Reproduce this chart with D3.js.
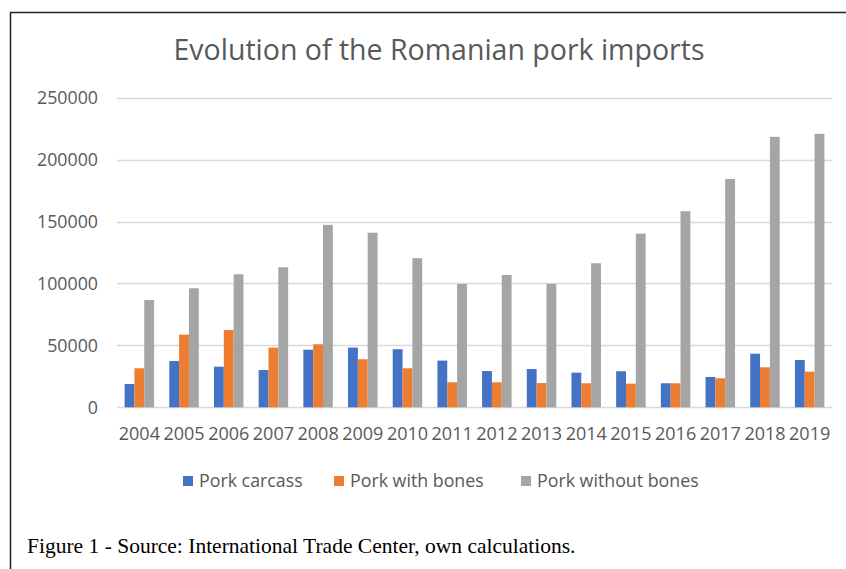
<!DOCTYPE html>
<html>
<head>
<meta charset="utf-8">
<script src="https://cdn.jsdelivr.net/npm/d3@7"></script>
<style>
  body { margin: 0; background: #fff; }
  svg { display: block; }
</style>
</head>
<body>
<script>
// chart data (tonnes)
var years = ["2004", "2005", "2006", "2007", "2008", "2009", "2010", "2011",
  "2012", "2013", "2014", "2015", "2016", "2017", "2018", "2019"];
var seriesNames = ["Pork carcass", "Pork with bones", "Pork without bones"];
var porkCarcass = [18800, 37400, 32800, 30100, 46500, 48200, 46900, 37700,
  29300, 30900, 28000, 29100, 19400, 24500, 43300, 38200];
var porkWithBones = [31500, 58700, 62400, 48200, 50900, 38800, 31500, 20200,
  20200, 19600, 19400, 19100, 19400, 23400, 32300, 28800];
var porkWithoutBones = [86700, 96100, 107400, 113100, 147300, 141000, 120400, 99600,
  106900, 99600, 116300, 140200, 158300, 184400, 218400, 220800];
var yTicks = [0, 50000, 100000, 150000, 200000, 250000];
var colors = ["#4472C4", "#ED7D31", "#A5A5A5"];

var w = 846,
  h = 569;
var font = "'Open Sans', 'Noto Sans', sans-serif";

// one row per year
var rows = years.map(function (y, i) {
  return { year: y, values: [porkCarcass[i], porkWithBones[i], porkWithoutBones[i]] };
});

var svg = d3.select("body").append("svg")
  .attr("width", w)
  .attr("height", h);

svg.append("rect").attr("width", w).attr("height", h).attr("fill", "#fff");

// frame (only left and top edges show in the crop)
svg.append("path")
  .attr("d", "M10.5," + h + "V12.5H" + w)
  .attr("fill", "none")
  .attr("stroke", "#222")
  .attr("stroke-width", 1.5);

// scales
var x0 = d3.scaleBand().domain(years).range([117, 832])
  .paddingInner(0.34).paddingOuter(0.17);
var x1 = d3.scaleBand().domain([0, 1, 2]).range([0, x0.bandwidth()]);
var y = d3.scaleLinear().domain([0, 250000]).range([407.3, 97.7]);

// gridlines
svg.append("g")
  .selectAll("line")
  .data(yTicks)
  .enter()
  .append("line")
  .attr("x1", 117)
  .attr("x2", 832)
  .attr("y1", function (d) { return Math.round(y(d)) + 0.5; })
  .attr("y2", function (d) { return Math.round(y(d)) + 0.5; })
  .attr("stroke", "#D9D9D9")
  .attr("stroke-width", 1.5);

// y axis labels
var yAxis = d3.axisLeft(y).tickValues(yTicks).tickSize(0).tickPadding(19)
  .tickFormat(d3.format("d"));
var gy = svg.append("g").attr("transform", "translate(117,0)").call(yAxis);
gy.select(".domain").remove();
gy.selectAll("text")
  .attr("fill", "#595959")
  .style("font-family", font)
  .style("font-size", "17.8px");

// bars
var groups = svg.append("g")
  .selectAll("g")
  .data(rows)
  .enter()
  .append("g")
  .attr("transform", function (d) { return "translate(" + x0(d.year) + ",0)"; });

groups.selectAll("rect")
  .data(function (d) { return d.values; })
  .enter()
  .append("rect")
  .attr("x", function (d, i) { return x1(i); })
  .attr("width", x1.bandwidth())
  .attr("y", function (d) { return y(d); })
  .attr("height", function (d) { return y(0) - y(d); })
  .attr("fill", function (d, i) { return colors[i]; });

// x axis labels
var xAxis = d3.axisBottom(x0).tickSize(0).tickPadding(20);
var gx = svg.append("g").attr("transform", "translate(0,407.3)").call(xAxis);
gx.select(".domain").remove();
gx.selectAll("text")
  .attr("fill", "#595959")
  .style("font-family", font)
  .style("font-size", "18px");

// title
svg.append("text")
  .attr("x", 439)
  .attr("y", 60)
  .attr("text-anchor", "middle")
  .attr("fill", "#595959")
  .style("font-family", font)
  .style("font-size", "28.5px")
  .text("Evolution of the Romanian pork imports");

// legend
var legendX = [183, 334, 521];
var legend = svg.append("g")
  .selectAll("g")
  .data(seriesNames)
  .enter()
  .append("g")
  .attr("transform", function (d, i) { return "translate(" + legendX[i] + ",476)"; });

legend.append("rect")
  .attr("width", 10)
  .attr("height", 10)
  .attr("fill", function (d, i) { return colors[i]; });

legend.append("text")
  .attr("x", 16)
  .attr("y", 11)
  .attr("fill", "#595959")
  .style("font-family", font)
  .style("font-size", "17.8px")
  .text(function (d) { return d; });

// caption
svg.append("text")
  .attr("x", 27)
  .attr("y", 553)
  .attr("fill", "#000")
  .style("font-family", "'Liberation Serif', 'Times New Roman', serif")
  .style("font-size", "21.5px")
  .text("Figure 1 - Source: International Trade Center, own calculations.");
</script>
</body>
</html>
